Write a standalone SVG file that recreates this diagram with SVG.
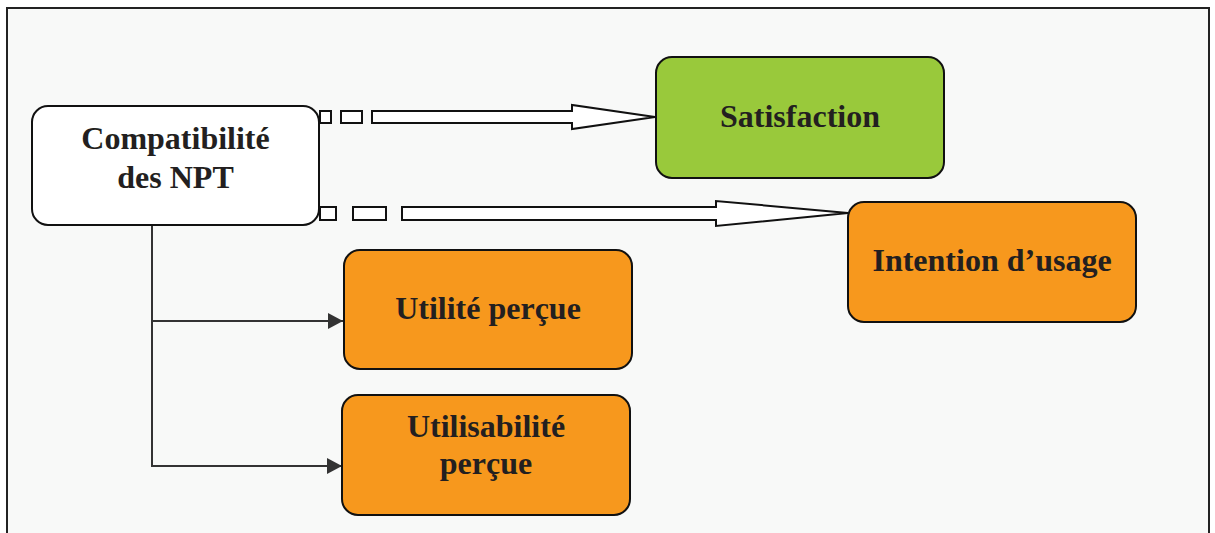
<svg xmlns="http://www.w3.org/2000/svg" width="1215" height="533" viewBox="0 0 1215 533">
<defs>
<style>
.node{stroke:#111;stroke-width:2}
.lbl{font-family:"Liberation Serif","Times New Roman",serif;font-weight:bold;font-size:32px;fill:#231f20;text-anchor:middle}
.blk{fill:#fff;stroke:#111;stroke-width:2;stroke-linejoin:miter}
.ln{fill:none;stroke:#333;stroke-width:2}
</style>
<marker id="ah" viewBox="0 0 15 16" refX="15" refY="8" markerWidth="15" markerHeight="16" markerUnits="userSpaceOnUse" orient="auto">
<path d="M0,0 L15,8 L0,16 z" fill="#333"/>
</marker>
</defs>
<rect x="0" y="0" width="1215" height="533" fill="#fff"/>
<rect x="7" y="8" width="1202" height="540" fill="#f8f9f8" stroke="#222" stroke-width="2"/>
<g id="connectors">
<rect class="blk" x="320" y="111" width="11" height="12"/>
<rect class="blk" x="341" y="111" width="21" height="12"/>
<polygon class="blk" points="372,111 572,111 572,105 655,117 572,129 572,123 372,123"/>
<rect class="blk" x="320" y="207" width="16" height="13"/>
<rect class="blk" x="353" y="207" width="33" height="13"/>
<polygon class="blk" points="402,207 716,207 716,201 848,213 716,226 716,220 402,220"/>
<polyline class="ln" points="152,225 152,466 342,466" marker-end="url(#ah)"/>
<polyline class="ln" points="152,321 343,321" marker-end="url(#ah)"/>
</g>
<g id="compatibilite">
<rect class="node" x="32" y="106" width="287" height="119" rx="16" fill="#fff"/>
<text class="lbl" x="175.5" y="149">Compatibilité</text>
<text class="lbl" x="175.5" y="188">des NPT</text>
</g>
<g id="satisfaction">
<rect class="node" x="656" y="57" width="288" height="121" rx="16" fill="#99c93b"/>
<text class="lbl" x="800" y="127">Satisfaction</text>
</g>
<g id="intention">
<rect class="node" x="848" y="202" width="288" height="120" rx="16" fill="#f7981d"/>
<text class="lbl" x="992" y="271">Intention d’usage</text>
</g>
<g id="utilite">
<rect class="node" x="344" y="250" width="288" height="119" rx="16" fill="#f7981d"/>
<text class="lbl" x="488" y="319">Utilité perçue</text>
</g>
<g id="utilisabilite">
<rect class="node" x="342" y="395" width="288" height="120" rx="16" fill="#f7981d"/>
<text class="lbl" x="486" y="437">Utilisabilité</text>
<text class="lbl" x="486" y="474">perçue</text>
</g>
</svg>
